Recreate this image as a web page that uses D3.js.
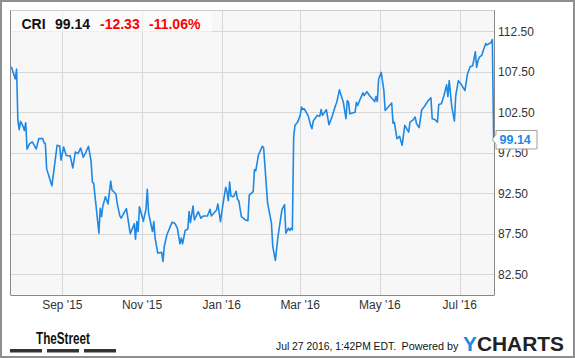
<!DOCTYPE html>
<html><head><meta charset="utf-8">
<script src="https://cdn.jsdelivr.net/npm/d3@7"></script>
<style>html,body{margin:0;padding:0;background:#fff;}svg{display:block;font-family:"Liberation Sans",Arial,sans-serif;}</style>
</head><body>
<svg id="c" width="575" height="358"></svg>
<script>
const dates = ["2015-07-24","2015-07-27","2015-07-28","2015-07-29","2015-07-30","2015-07-31","2015-08-02","2015-08-03","2015-08-04","2015-08-05","2015-08-07","2015-08-09","2015-08-12","2015-08-14","2015-08-17","2015-08-18","2015-08-19","2015-08-20","2015-08-24","2015-08-28","2015-08-30","2015-08-31","2015-09-02","2015-09-04","2015-09-07","2015-09-09","2015-09-11","2015-09-13","2015-09-15","2015-09-17","2015-09-19","2015-09-21","2015-09-23","2015-09-24","2015-09-25","2015-09-29","2015-09-30","2015-10-01","2015-10-02","2015-10-04","2015-10-06","2015-10-08","2015-10-09","2015-10-12","2015-10-13","2015-10-15","2015-10-16","2015-10-20","2015-10-23","2015-10-26","2015-10-27","2015-10-28","2015-10-29","2015-10-30","2015-11-02","2015-11-04","2015-11-05","2015-11-06","2015-11-09","2015-11-10","2015-11-11","2015-11-13","2015-11-16","2015-11-17","2015-11-18","2015-11-20","2015-11-24","2015-11-26","2015-11-28","2015-11-30","2015-12-01","2015-12-02","2015-12-04","2015-12-06","2015-12-07","2015-12-08","2015-12-10","2015-12-11","2015-12-14","2015-12-16","2015-12-18","2015-12-21","2015-12-23","2015-12-24","2015-12-28","2015-12-29","2015-12-31","2016-01-02","2016-01-04","2016-01-05","2016-01-06","2016-01-07","2016-01-08","2016-01-10","2016-01-12","2016-01-13","2016-01-14","2016-01-16","2016-01-19","2016-01-21","2016-01-22","2016-01-23","2016-01-25","2016-01-26","2016-01-27","2016-01-29","2016-02-01","2016-02-02","2016-02-05","2016-02-08","2016-02-09","2016-02-11","2016-02-13","2016-02-16","2016-02-18","2016-02-19","2016-02-21","2016-02-22","2016-02-23","2016-02-24","2016-02-25","2016-02-26","2016-02-28","2016-03-01","2016-03-02","2016-03-03","2016-03-04","2016-03-07","2016-03-09","2016-03-10","2016-03-11","2016-03-14","2016-03-16","2016-03-17","2016-03-18","2016-03-21","2016-03-23","2016-03-25","2016-03-28","2016-03-29","2016-03-31","2016-04-03","2016-04-05","2016-04-06","2016-04-07","2016-04-08","2016-04-12","2016-04-13","2016-04-14","2016-04-16","2016-04-18","2016-04-19","2016-04-21","2016-04-23","2016-04-27","2016-04-28","2016-04-29","2016-04-30","2016-05-02","2016-05-04","2016-05-05","2016-05-09","2016-05-10","2016-05-11","2016-05-12","2016-05-14","2016-05-16","2016-05-18","2016-05-20","2016-05-23","2016-05-24","2016-05-26","2016-05-28","2016-05-29","2016-05-31","2016-06-02","2016-06-04","2016-06-07","2016-06-09","2016-06-10","2016-06-12","2016-06-14","2016-06-15","2016-06-17","2016-06-19","2016-06-21","2016-06-22","2016-06-23","2016-06-25","2016-06-27","2016-06-28","2016-06-30","2016-07-02","2016-07-05","2016-07-07","2016-07-09","2016-07-11","2016-07-13","2016-07-14","2016-07-15","2016-07-16","2016-07-18","2016-07-19","2016-07-21","2016-07-22","2016-07-25","2016-07-26","2016-07-27"];
const closes = [108.12,106.61,107.84,101.49,100.35,101.37,100.75,100.26,101.21,97.93,98.63,98.83,97.97,99.24,99.24,98.75,98.63,95.51,93.42,98.42,98.34,96.58,98.21,97.16,97.11,95.63,97.60,97.40,98.09,96.95,97.56,98.30,96.46,93.88,93.72,87.58,90.65,89.62,90.93,92.07,91.18,94.00,92.90,92.40,91.26,89.70,89.42,90.60,87.49,88.72,86.84,89.00,87.77,90.84,89.05,90.53,92.98,90.03,87.77,89.00,86.96,85.12,85.20,84.09,85.93,87.37,88.93,88.81,88.19,86.26,86.96,86.26,87.90,88.07,90.23,88.88,90.93,89.21,90.23,89.42,89.70,89.70,90.53,89.70,90.44,91.18,89.00,91.26,93.23,92.69,91.58,93.88,92.16,92.07,92.74,91.75,91.58,89.62,89.21,89.12,92.28,92.40,92.69,95.44,95.27,97.19,98.30,98.14,91.34,88.81,85.93,84.21,87.16,90.44,91.09,87.58,88.19,87.90,88.19,87.98,99.44,100.88,101.28,102.11,103.13,102.84,102.93,102.11,100.88,100.47,101.41,102.11,102.02,102.84,102.11,102.81,100.96,101.77,103.33,103.74,105.26,103.74,101.70,103.95,103.74,102.31,102.51,103.74,103.33,104.16,104.89,104.56,105.05,104.56,103.82,104.44,103.82,106.61,107.42,105.18,102.72,103.46,103.62,101.16,101.28,99.24,99.53,98.42,100.88,100.05,101.28,101.49,101.90,101.09,100.60,102.81,103.21,103.95,104.28,101.70,101.61,101.28,103.46,103.54,104.56,105.88,104.44,106.40,103.13,101.41,104.56,106.40,106.00,105.18,107.23,108.12,108.25,109.97,108.04,108.86,109.27,109.56,110.09,110.98,110.82,111.11,111.47,99.14];
const yTicks = [82.5, 87.5, 92.5, 97.5, 102.5, 107.5, 112.5];
const symbol = "CRI";
const lastPrice = "99.14";
const change = "-12.33";
const changePct = "-11.06%";
const footerDate = "Jul 27 2016, 1:42PM EDT.";

const parse = d3.timeParse("%Y-%m-%d");
const data = dates.map((d,i)=>({date:parse(d), v:closes[i]}));

const svg = d3.select("#c");
const L = 10.5, R = 494.5, T = 10.5, B = 295;
const x = d3.scaleTime().domain([new Date(2015,6,23,12), new Date(2016,6,27,12)]).range([10.7, 494.3]);
const y = d3.scaleLinear().domain([80,115]).range([294.5, 11]);
const blue = "#1e88e5";

svg.append("rect").attr("x",1).attr("y",1).attr("width",573).attr("height",356)
  .attr("fill","#fff").attr("stroke","#8f8f8f").attr("stroke-width",2);
svg.append("rect").attr("x",L).attr("y",T).attr("width",R-L).attr("height",B-T).attr("fill","#f7f7f7");

// gridlines
const xt = x.ticks(d3.timeMonth.every(2));
svg.append("g").selectAll("line").data(xt).join("line")
  .attr("x1",d=>Math.round(x(d))+0.5).attr("x2",d=>Math.round(x(d))+0.5)
  .attr("y1",T).attr("y2",B).attr("stroke","#d7d7d7").attr("stroke-width",1);
svg.append("g").selectAll("line").data(yTicks).join("line")
  .attr("x1",L).attr("x2",R).attr("y1",d=>Math.round(y(d))+0.5).attr("y2",d=>Math.round(y(d))+0.5)
  .attr("stroke","#d7d7d7").attr("stroke-width",1);

// header box
svg.append("rect").attr("x",11).attr("y",11).attr("width",201).attr("height",21)
  .attr("fill","#fff").attr("opacity",0.55);

// line
svg.append("path").datum(data)
  .attr("d", d3.line().x(d=>x(d.date)).y(d=>y(d.v)))
  .attr("fill","none").attr("stroke",blue).attr("stroke-width",1.6).attr("stroke-linejoin","round");

// borders
svg.append("line").attr("x1",L).attr("x2",R).attr("y1",T).attr("y2",T).attr("stroke","#cfcfcf");
svg.append("line").attr("x1",L).attr("x2",L).attr("y1",T).attr("y2",B).attr("stroke","#888");
svg.append("line").attr("x1",R).attr("x2",R).attr("y1",T).attr("y2",B).attr("stroke","#888");
svg.append("line").attr("x1",L).attr("x2",R).attr("y1",B+0.5).attr("y2",B+0.5).attr("stroke","#888");

// axes labels
const fmt = d3.timeFormat("%b '%y");
svg.append("g").selectAll("text").data(xt).join("text")
  .attr("x",d=>x(d)).attr("y",308.5).attr("text-anchor","middle")
  .attr("font-size",12).attr("fill","#333").text(d=>fmt(d));
svg.append("g").selectAll("text").data(yTicks).join("text")
  .attr("x",498).attr("y",d=>y(d)+4.3).attr("font-size",12).attr("fill","#333")
  .text(d=>d.toFixed(2));

// last price callout
const ly = y(closes[closes.length-1]);
svg.append("path")
  .attr("d",`M496,${ly-9} H537 V${ly+9.5} H496 V${ly+5} L492.5,${ly} L496,${ly-5} Z`)
  .attr("fill","#fff").attr("stroke","#a0a0a0").attr("stroke-width",1);
svg.append("text").attr("x",499.5).attr("y",ly+5).attr("font-size",12.5).attr("font-weight","bold")
  .attr("fill",blue).text(lastPrice);

// header texts
const hdr = svg.append("g").attr("font-size",14).attr("font-weight","bold");
hdr.append("text").attr("x",21.5).attr("y",29).attr("fill","#111").text(symbol);
hdr.append("text").attr("x",55).attr("y",29).attr("fill","#111").text(lastPrice);
hdr.append("text").attr("x",100).attr("y",29).attr("fill","#f00").text(change);
hdr.append("text").attr("x",149).attr("y",29).attr("fill","#f00").text(changePct);

// footer
svg.append("text").attr("x",36).attr("y",344).attr("font-size",16).attr("font-weight","bold")
  .attr("textLength",54).attr("lengthAdjust","spacingAndGlyphs").attr("fill","#111").text("TheStreet");
[[10,42],[47,79],[84,116]].forEach(([a,b])=>{
  svg.append("rect").attr("x",a).attr("y",349).attr("width",b-a).attr("height",3.5).attr("fill","#333");
});
svg.append("text").attr("x",276).attr("y",350).attr("font-size",11).attr("fill","#111")
  .attr("textLength",120).attr("lengthAdjust","spacingAndGlyphs").text(footerDate);
svg.append("text").attr("x",401.5).attr("y",350).attr("font-size",11).attr("fill","#111")
  .attr("textLength",57).attr("lengthAdjust","spacingAndGlyphs").text("Powered by");
const yc = svg.append("text").attr("x",463).attr("y",351).attr("font-size",21).attr("font-weight","bold")
  .attr("textLength",101).attr("lengthAdjust","spacingAndGlyphs");
yc.append("tspan").attr("fill",blue).text("Y");
yc.append("tspan").attr("fill","#222").text("CHARTS");
</script>
</body></html>
